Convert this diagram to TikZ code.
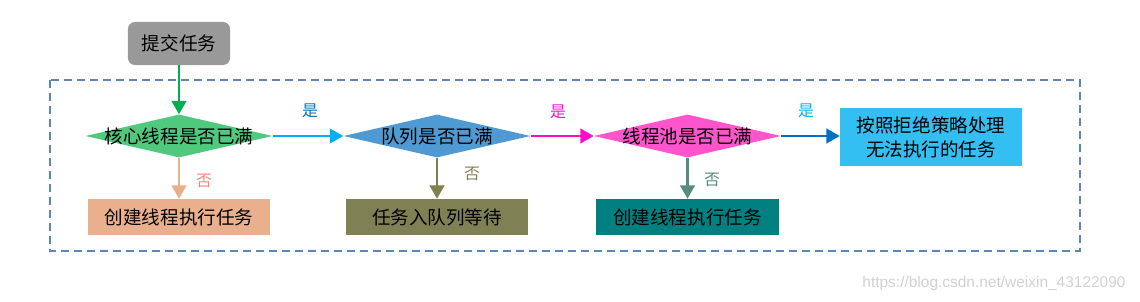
\documentclass[tikz,border=0pt]{standalone}
\usepackage{fontspec}
\setmainfont{Liberation Sans}
\newfontfamily\cjk{Noto Sans CJK SC}
\usetikzlibrary{shapes.geometric,arrows.meta,positioning}
\definecolor{framec}{HTML}{5B86B5}
\definecolor{submitc}{HTML}{999999}
\definecolor{diaone}{HTML}{50C87E}
\definecolor{diatwo}{HTML}{4F9AD2}
\definecolor{diathree}{HTML}{FF55CC}
\definecolor{boxone}{HTML}{EAB08E}
\definecolor{boxtwo}{HTML}{808055}
\definecolor{boxthree}{HTML}{008080}
\definecolor{boxfour}{HTML}{33BFF2}
\definecolor{arrgreen}{HTML}{00B050}
\definecolor{arrcyan}{HTML}{00B0F0}
\definecolor{arrpink}{HTML}{FF10C8}
\definecolor{arrblue}{HTML}{0070C0}
\definecolor{arrpeach}{HTML}{E8B08A}
\definecolor{arrolive}{HTML}{808050}
\definecolor{arrteal}{HTML}{5A8A80}
\definecolor{noone}{HTML}{FF8080}
\begin{document}
\begin{tikzpicture}[x=0.025cm,y=-0.025cm,
  box/.style={rectangle,inner sep=0pt,align=center,font=\cjk\fontsize{13.2}{17}\selectfont},
  dia/.style={diamond,inner sep=0pt,minimum width=4.675cm,minimum height=1.075cm,font=\cjk\fontsize{13.2}{17}\selectfont},
  flow/.style={line width=1.6pt,-{Triangle[length=9.5pt,width=10.5pt]}},
  lbl/.style={font=\cjk\fontsize{11.3}{13}\selectfont}]
\useasboundingbox (0,0) rectangle (1140,302);
\draw[framec,line width=0.9pt,dash pattern=on 0.2cm off 0.125cm] (50,80) rectangle (1080,251);
\node[box,fill=submitc,rounded corners=5pt,minimum width=2.55cm,minimum height=1.075cm] (submit) at (179,43.5) {提交任务};
\node[dia,fill=diaone] (core) at (179,136) {\makebox[0pt]{核心线程是否已满}};
\node[dia,fill=diatwo] (queue) at (437,136) {\makebox[0pt]{队列是否已满}};
\node[dia,fill=diathree] (pool) at (687.5,136) {\makebox[0pt]{线程池是否已满}};
\node[box,fill=boxfour,minimum width=4.55cm,minimum height=1.425cm] (reject) at (931,137) {按照拒绝策略处理\\无法执行的任务};
\node[box,fill=boxone,minimum width=4.55cm,minimum height=0.9cm] (runcore) at (179,217) {创建线程执行任务};
\node[box,fill=boxtwo,minimum width=4.55cm,minimum height=0.9cm] (enqueue) at (437,217) {任务入队列等待};
\node[box,fill=boxthree,minimum width=4.575cm,minimum height=0.9cm] (runmax) at (687.5,217) {创建线程执行任务};
\draw[flow,arrgreen] (submit) -- (core);
\draw[flow,arrcyan] (core.east) -- (queue.west);
\draw[flow,arrpink] (queue.east) -- (pool.west);
\draw[flow,arrblue] (pool.east) -- (reject.west |- pool.east);
\draw[flow,arrpeach] (core.south) -- (runcore.north);
\draw[flow,arrolive] (queue.south) -- (enqueue.north);
\draw[flow,arrteal] (pool.south) -- (runmax.north);
\node[lbl,text=arrblue] (yes1) at (310,111) {是};
\node[lbl,text=arrpink] (yes2) at (558,112) {是};
\node[lbl,text=arrcyan] (yes3) at (806,111) {是};
\node[lbl,text=noone] (no1) at (204,181) {否};
\node[lbl,text=arrolive] (no2) at (472,174) {否};
\node[lbl,text=arrteal] (no3) at (712,180) {否};
\node[text=black!18,font=\fontsize{11}{13}\selectfont] (mark) at (994,283) {https://blog.csdn.net/weixin\_43122090};
\end{tikzpicture}
\end{document}
